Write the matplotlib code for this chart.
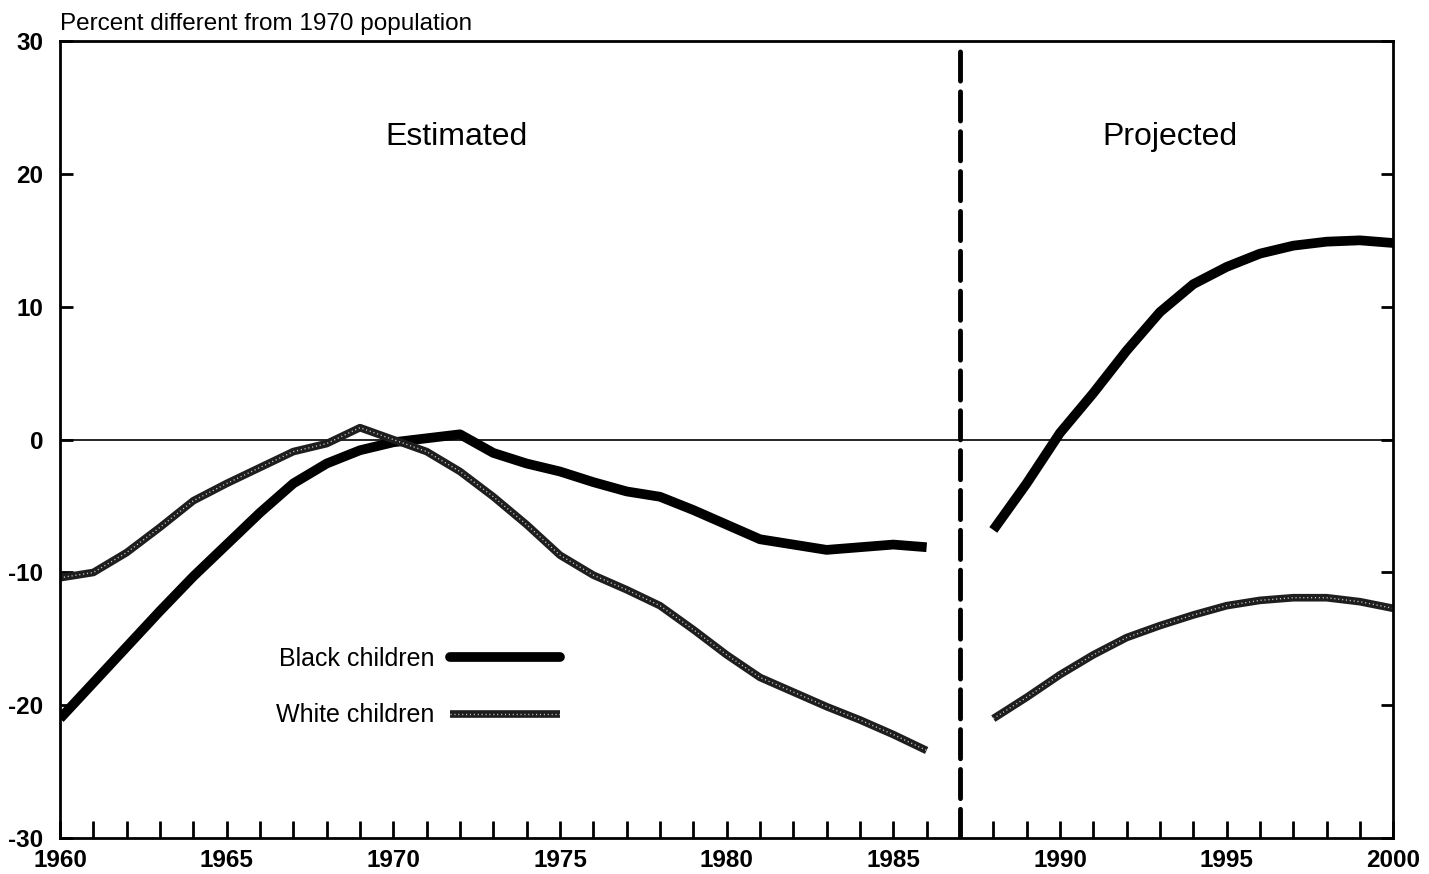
import matplotlib
matplotlib.use('Agg')
import numpy as np
import matplotlib.pyplot as plt
from matplotlib.ticker import MultipleLocator

plt.rcParams['font.family'] = ['Liberation Sans', 'DejaVu Sans']
plt.rcParams['axes.unicode_minus'] = False

# estimated period
est_years = [1960, 1961, 1962, 1963, 1964, 1965, 1966, 1967, 1968, 1969,
             1970, 1971, 1972, 1973, 1974, 1975, 1976, 1977, 1978, 1979,
             1980, 1981, 1982, 1983, 1984, 1985, 1986]
black_est = [-21.0, -18.3, -15.6, -12.9, -10.3, -7.9, -5.5, -3.3, -1.8, -0.8,
             -0.2, 0.1, 0.4, -1.0, -1.8, -2.4, -3.2, -3.9, -4.3, -5.3,
             -6.4, -7.5, -7.9, -8.3, -8.1, -7.9, -8.1]
white_est = [-10.4, -10.0, -8.5, -6.6, -4.6, -3.3, -2.1, -0.9, -0.3, 0.9,
             0.0, -0.9, -2.4, -4.3, -6.4, -8.7, -10.2, -11.3, -12.5, -14.3,
             -16.2, -17.9, -19.0, -20.1, -21.1, -22.2, -23.4]

# projected period
proj_years = [1988, 1989, 1990, 1991, 1992, 1993, 1994, 1995, 1996, 1997,
              1998, 1999, 2000]
black_proj = [-6.8, -3.3, 0.5, 3.5, 6.7, 9.6, 11.7, 13.0, 14.0, 14.6,
              14.9, 15.0, 14.8]
white_proj = [-21.0, -19.4, -17.7, -16.2, -14.9, -14.0, -13.2, -12.5, -12.1, -11.9,
              -11.9, -12.2, -12.7]

split_year = 1987

fig = plt.figure(figsize=(14.29, 8.74), dpi=100)
ax = fig.add_axes([0.042, 0.041, 0.933, 0.912])

WHITE_BASE = '#1e1e1e'
base_kw = dict(color=WHITE_BASE, lw=5.5, solid_capstyle='butt', solid_joinstyle='round')
dots_kw = dict(color='white', lw=1.0, linestyle=(0, (0.8, 2.0)), alpha=0.75)


def white_line(x, y):
    # textured line: dark base with small white dots over it
    ax.plot(x, y, **base_kw)
    ax.plot(x, y, **dots_kw)


ax.axhline(0, color='black', lw=1.2, zorder=1)
ax.axvline(split_year, color='black', lw=3.5, linestyle=(0, (6, 2.2)),
           dash_capstyle='round', zorder=3)

ax.plot(est_years, black_est, color='black', lw=7,
        solid_capstyle='butt', solid_joinstyle='round')
ax.plot(proj_years, black_proj, color='black', lw=7,
        solid_capstyle='butt', solid_joinstyle='round')
white_line(est_years, white_est)
white_line(proj_years, white_proj)

# legend handles
lb, = ax.plot([], [], color='black', lw=7, solid_capstyle='round')
wb, = ax.plot([], [], **base_kw)
wd, = ax.plot([], [], **dots_kw)
ax.legend([lb, (wb, wd)], ['Black children', 'White children'],
          loc='upper left', bbox_to_anchor=(0.162, 0.24), frameon=False,
          markerfirst=False, fontsize=18, handlelength=4.4, handletextpad=0.64,
          labelspacing=1.3, borderpad=0, borderaxespad=0)

ax.text(1971.9, 22.8, 'Estimated', fontsize=23, ha='center', va='center')
ax.text(1993.3, 22.8, 'Projected', fontsize=23, ha='center', va='center')

ax.text(0.0, 1.008, 'Percent different from 1970 population', transform=ax.transAxes,
        fontsize=17.5, ha='left', va='bottom')

ax.set_xlim(1960, 2000)
ax.set_ylim(-30, 30)
ax.xaxis.set_major_locator(MultipleLocator(5))
ax.xaxis.set_minor_locator(MultipleLocator(1))
ax.yaxis.set_major_locator(MultipleLocator(10))
ax.tick_params(axis='x', which='both', direction='in', length=12, width=2,
               top=False, labelsize=17.5, pad=8)
ax.tick_params(axis='y', which='major', direction='in', length=9, width=2,
               left=True, right=True, labelsize=17.5, pad=12)
for lab in ax.get_xticklabels() + ax.get_yticklabels():
    lab.set_fontweight('bold')
for s in ax.spines.values():
    s.set_linewidth(2)

fig.savefig('out.png', dpi=100)
